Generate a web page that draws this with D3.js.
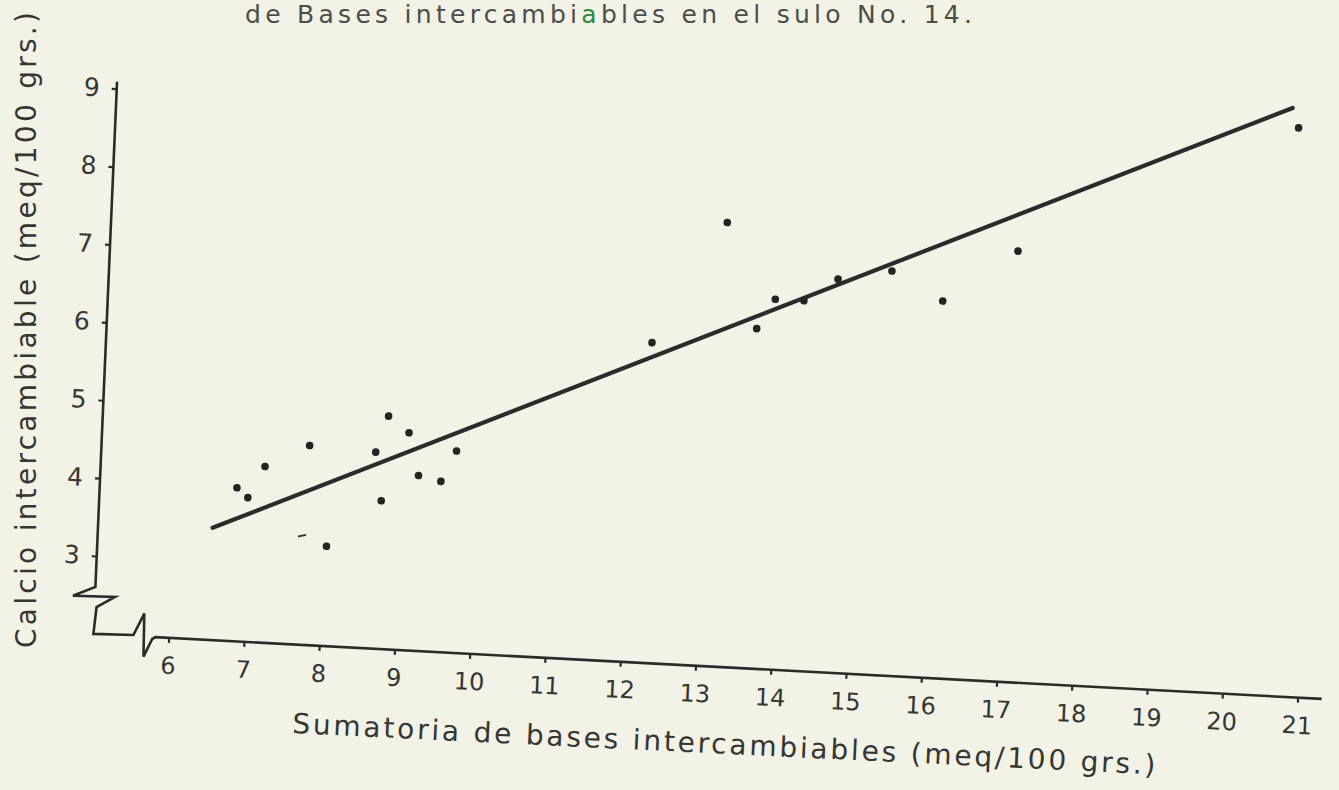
<!DOCTYPE html>
<html>
<head>
<meta charset="utf-8">
<script src="https://cdn.jsdelivr.net/npm/d3@7"></script>
<style>
  html, body { margin: 0; padding: 0; background: #f3f2e6; }
  svg { display: block; }
  text { font-family: "DejaVu Sans", "Liberation Sans", sans-serif; fill: #363633; }
</style>
</head>
<body>
<svg id="chart" width="1339" height="790"></svg>
<script>
// Sumatoria de bases intercambiables vs. calcio intercambiable (meq/100 grs.)
const xTicks = [6, 7, 8, 9, 10, 11, 12, 13, 14, 15, 16, 17, 18, 19, 20, 21];
const yTicks = [3, 4, 5, 6, 7, 8, 9];

const sumBases = [6.82, 6.97, 7.18, 7.76, 8.79, 9.07, 8.64, 9.71, 9.22, 9.52, 8.74, 8.04,
                  12.24, 13.17, 13.62, 13.85, 14.23, 14.67, 15.38, 16.07, 17.04, 20.69];
const calcio   = [3.97, 3.85, 4.26, 4.56, 4.99, 4.79, 4.52, 4.59, 4.25, 4.19, 3.90, 3.28,
                  6.11, 7.70, 6.36, 6.75, 6.75, 7.05, 7.19, 6.84, 7.53, 9.30];

// faint extra mark printed as a short dash
const dashX = [7.71];
const dashY = [3.40];

// ends of the fitted regression line
const fitX = [6.52, 20.60];
const fitY = [3.44, 9.55];

const titleParts = ["de Bases intercambi", "a", "bles en el sulo No. 14."];
const xLabel = "Sumatoria de bases intercambiables (meq/100 grs.)";
const yLabel = "Calcio intercambiable (meq/100 grs.)";

const svg = d3.select("#chart");
svg.append("rect").attr("width", 1339).attr("height", 790).attr("fill", "#f3f2e6");

// the hand-drawn frame sits slightly skewed on the sheet
const tiltX = 3.03 * Math.PI / 180;
const tiltY = 2.45 * Math.PI / 180;
const origin = [93.4, 633.9];
const frame = svg.append("g")
  .attr("transform", `matrix(${Math.cos(tiltX)},${Math.sin(tiltX)},${-Math.sin(tiltY)},${Math.cos(tiltY)},${origin[0]},${origin[1]})`);

const x = d3.scaleLinear().domain([5, 21]).range([0, 1205.9]);
const y = d3.scaleLinear().domain([2, 9]).range([0, -545.7]);

const ink = "#2b2b29";

// axes with the broken-scale zigzags at the corner
const axisEnd = 1230;
const p = d3.path();
p.moveTo(0, y(9) - 7);
p.lineTo(0, -47);
p.lineTo(-22, -37);
p.lineTo(20, -38);
p.lineTo(2, -27);
p.lineTo(0, 0);
p.lineTo(40, -1);
p.lineTo(50, -23);
p.lineTo(51, 20);
p.lineTo(59, 2);
p.lineTo(62, 0);
p.lineTo(axisEnd, 0);
frame.append("path").attr("d", p.toString())
  .attr("fill", "none").attr("stroke", ink).attr("stroke-width", 2.6)
  .attr("stroke-linejoin", "miter");

const gx = frame.append("g")
  .call(d3.axisBottom(x).tickValues(xTicks).tickSize(5).tickPadding(14).tickFormat(d3.format("d")));
const gy = frame.append("g")
  .call(d3.axisLeft(y).tickValues(yTicks).tickSize(5).tickPadding(12).tickFormat(d3.format("d")));

[gx, gy].forEach(g => {
  g.select(".domain").remove();
  g.selectAll(".tick line").attr("stroke", ink).attr("stroke-width", 2.2);
  g.selectAll(".tick text").attr("fill", "#363633")
    .style("font-family", "\"DejaVu Sans\", sans-serif");
});
gx.selectAll(".tick text").style("font-size", "24px").attr("dy", "0.71em");
gy.selectAll(".tick text").style("font-size", "25px");

// regression line
frame.append("path")
  .datum(d3.zip(fitX, fitY))
  .attr("d", d3.line().x(d => x(d[0])).y(d => y(d[1])))
  .attr("fill", "none").attr("stroke", ink)
  .attr("stroke-width", 4.2).attr("stroke-linecap", "round");

// observations
frame.append("g").selectAll("circle")
  .data(d3.zip(sumBases, calcio))
  .join("circle")
  .attr("cx", d => x(d[0]))
  .attr("cy", d => y(d[1]))
  .attr("r", 3.8)
  .attr("fill", "#242422");

frame.append("g").selectAll("line")
  .data(d3.zip(dashX, dashY))
  .join("line")
  .attr("x1", d => x(d[0]) - 4).attr("y1", d => y(d[1]) + 1)
  .attr("x2", d => x(d[0]) + 4).attr("y2", d => y(d[1]) - 1)
  .attr("stroke", "#3a3a38").attr("stroke-width", 2);

// title
const t = svg.append("text")
  .attr("x", 245).attr("y", 23)
  .attr("textLength", 727).attr("lengthAdjust", "spacing")
  .style("font-size", "25px").style("fill", "#4d4d4a");
t.selectAll("tspan").data(titleParts).join("tspan")
  .text(d => d)
  .style("fill", (d, i) => i === 1 ? "#2f8a3c" : "#4d4d4a");

// axis titles
svg.append("text")
  .attr("transform", "translate(292,733) rotate(2.75)")
  .attr("textLength", 864).attr("lengthAdjust", "spacing")
  .style("font-size", "28px")
  .text(xLabel);

svg.append("text")
  .attr("transform", "translate(36,648) rotate(-90)")
  .attr("textLength", 636).attr("lengthAdjust", "spacing")
  .style("font-size", "28px")
  .text(yLabel);
</script>
</body>
</html>
